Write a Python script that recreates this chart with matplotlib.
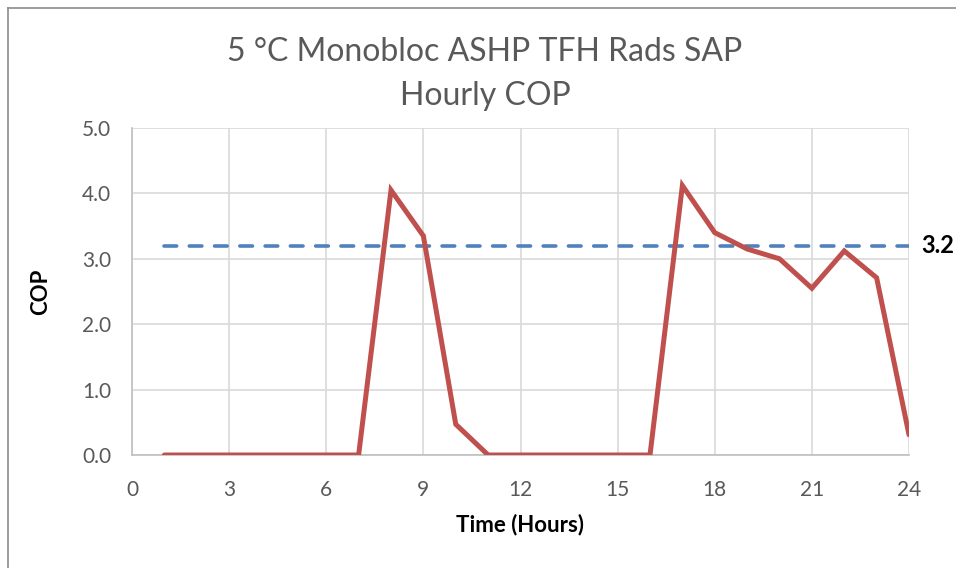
import matplotlib
matplotlib.use("Agg")
import matplotlib.pyplot as plt
from matplotlib.lines import Line2D

hours = list(range(1, 25))
cop = [0, 0, 0, 0, 0, 0, 0, 4.05, 3.35, 0.47, 0, 0, 0, 0, 0, 0,
       4.12, 3.40, 3.15, 3.00, 2.55, 3.12, 2.71, 0.31]
avg_cop = 3.2
avg_label = "3.2"
title = "5 °C Monobloc ASHP TFH Rads SAP\nHourly COP"
xticks = list(range(0, 25, 3))
yticks = [0.0, 1.0, 2.0, 3.0, 4.0, 5.0]

plt.rcParams['font.family'] = ['Lato', 'DejaVu Sans']

fig = plt.figure(figsize=(9.56, 5.68), dpi=100)
ax = fig.add_axes([132/956, 1-455/568, (909-132)/956, (455-128)/568])

ax.plot(hours, [avg_cop]*len(hours), color='#4F81BD', lw=2.6,
        dashes=(3.5, 3.5), solid_capstyle='round', dash_capstyle='round', zorder=3)
ax.plot(hours, cop, color='#C0504D', lw=3.6, solid_joinstyle='miter',
        solid_capstyle='round', zorder=4)

ax.set_xlim(0, 24)
ax.set_ylim(0, 5)
ax.set_xticks(xticks)
ax.set_yticks(yticks)
ax.set_yticklabels([f"{v:.1f}" for v in yticks])
ax.grid(True, color='#d9d9d9', lw=1.2)
ax.set_axisbelow(True)
for s in ['top', 'right']:
    ax.spines[s].set_visible(False)
for s in ['left', 'bottom']:
    ax.spines[s].set_color('#bfbfbf')
    ax.spines[s].set_linewidth(1.2)
ax.tick_params(length=0, labelsize=15, colors='#595959')
ax.tick_params(axis='y', pad=15)
ax.tick_params(axis='x', pad=18)

ax.set_xlabel("Time (Hours)", fontsize=16, fontweight='bold', labelpad=10)
ax.set_ylabel("COP", fontsize=16, fontweight='bold', labelpad=22)

ax.annotate(avg_label, xy=(24, avg_cop), xytext=(9, 0), textcoords='offset points',
            fontsize=17, fontweight='bold', va='center', ha='left', annotation_clip=False)

fig.text(485/956, 1-74/568, title, ha='center', va='center', fontsize=23,
         color='#595959', linespacing=1.6)

fig.add_artist(Line2D([8/956, 8/956], [0, 1-8/568], color='#8c8c8c', lw=1.2,
                      transform=fig.transFigure))
fig.add_artist(Line2D([8/956, 1], [1-8/568, 1-8/568], color='#8c8c8c', lw=1.2,
                      transform=fig.transFigure))

fig.savefig("out.png", dpi=100)
